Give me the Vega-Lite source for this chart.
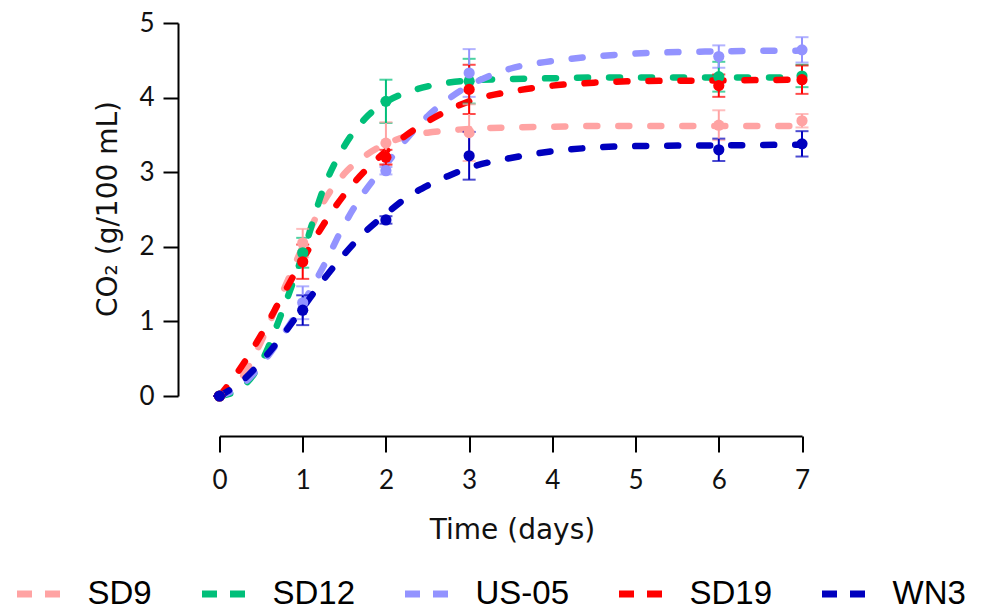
{
  "$schema": "https://vega.github.io/schema/vega-lite/v6.json",
  "width": 582.5,
  "height": 373,
  "autosize": {"type": "none"},
  "padding": {"left": 219.5, "top": 23, "right": 179, "bottom": 215},
  "background": "white",
  "config": {
    "view": {"stroke": null},
    "axis": {
      "grid": false,
      "domainColor": "#000000",
      "domainWidth": 2,
      "tickColor": "#000000",
      "tickWidth": 2,
      "labelColor": "#111111",
      "labelFont": "Lato",
      "labelFontSize": 26,
      "titleColor": "#111111",
      "titleFont": "DejaVu Sans",
      "titleFontSize": 28,
      "titleFontWeight": "normal"
    }
  },
  "datasets": {
    "fit": [
      {"strain": "SD9", "t": 0, "v": 0}, {"strain": "SD9", "t": 0.25, "v": 0.22}, {"strain": "SD9", "t": 0.5, "v": 0.73}, {"strain": "SD9", "t": 0.75, "v": 1.37}, {"strain": "SD9", "t": 1, "v": 2.0}, {"strain": "SD9", "t": 1.25, "v": 2.6}, {"strain": "SD9", "t": 1.5, "v": 2.98}, {"strain": "SD9", "t": 1.75, "v": 3.22}, {"strain": "SD9", "t": 2, "v": 3.38}, {"strain": "SD9", "t": 2.25, "v": 3.48}, {"strain": "SD9", "t": 2.5, "v": 3.53}, {"strain": "SD9", "t": 2.75, "v": 3.56}, {"strain": "SD9", "t": 3, "v": 3.58}, {"strain": "SD9", "t": 3.5, "v": 3.6}, {"strain": "SD9", "t": 4, "v": 3.61}, {"strain": "SD9", "t": 4.5, "v": 3.62}, {"strain": "SD9", "t": 5, "v": 3.62}, {"strain": "SD9", "t": 6, "v": 3.62}, {"strain": "SD9", "t": 7, "v": 3.62},
      {"strain": "SD12", "t": 0, "v": 0}, {"strain": "SD12", "t": 0.25, "v": 0.1}, {"strain": "SD12", "t": 0.5, "v": 0.45}, {"strain": "SD12", "t": 0.75, "v": 1.12}, {"strain": "SD12", "t": 1, "v": 1.9}, {"strain": "SD12", "t": 1.25, "v": 2.78}, {"strain": "SD12", "t": 1.5, "v": 3.35}, {"strain": "SD12", "t": 1.75, "v": 3.72}, {"strain": "SD12", "t": 2, "v": 3.94}, {"strain": "SD12", "t": 2.25, "v": 4.07}, {"strain": "SD12", "t": 2.5, "v": 4.15}, {"strain": "SD12", "t": 2.75, "v": 4.2}, {"strain": "SD12", "t": 3, "v": 4.23}, {"strain": "SD12", "t": 3.5, "v": 4.25}, {"strain": "SD12", "t": 4, "v": 4.26}, {"strain": "SD12", "t": 4.5, "v": 4.27}, {"strain": "SD12", "t": 5, "v": 4.27}, {"strain": "SD12", "t": 6, "v": 4.27}, {"strain": "SD12", "t": 7, "v": 4.27},
      {"strain": "US-05", "t": 0, "v": 0}, {"strain": "US-05", "t": 0.25, "v": 0.13}, {"strain": "US-05", "t": 0.5, "v": 0.42}, {"strain": "US-05", "t": 0.75, "v": 0.8}, {"strain": "US-05", "t": 1, "v": 1.24}, {"strain": "US-05", "t": 1.25, "v": 1.74}, {"strain": "US-05", "t": 1.5, "v": 2.3}, {"strain": "US-05", "t": 1.75, "v": 2.75}, {"strain": "US-05", "t": 2, "v": 3.1}, {"strain": "US-05", "t": 2.25, "v": 3.45}, {"strain": "US-05", "t": 2.5, "v": 3.75}, {"strain": "US-05", "t": 2.75, "v": 3.98}, {"strain": "US-05", "t": 3, "v": 4.16}, {"strain": "US-05", "t": 3.5, "v": 4.39}, {"strain": "US-05", "t": 4, "v": 4.49}, {"strain": "US-05", "t": 4.5, "v": 4.55}, {"strain": "US-05", "t": 5, "v": 4.59}, {"strain": "US-05", "t": 6, "v": 4.62}, {"strain": "US-05", "t": 7, "v": 4.63},
      {"strain": "SD19", "t": 0, "v": 0}, {"strain": "SD19", "t": 0.25, "v": 0.37}, {"strain": "SD19", "t": 0.5, "v": 0.82}, {"strain": "SD19", "t": 0.75, "v": 1.33}, {"strain": "SD19", "t": 1, "v": 1.83}, {"strain": "SD19", "t": 1.25, "v": 2.3}, {"strain": "SD19", "t": 1.5, "v": 2.7}, {"strain": "SD19", "t": 1.75, "v": 3.02}, {"strain": "SD19", "t": 2, "v": 3.28}, {"strain": "SD19", "t": 2.25, "v": 3.5}, {"strain": "SD19", "t": 2.5, "v": 3.68}, {"strain": "SD19", "t": 2.75, "v": 3.83}, {"strain": "SD19", "t": 3, "v": 3.95}, {"strain": "SD19", "t": 3.5, "v": 4.08}, {"strain": "SD19", "t": 4, "v": 4.16}, {"strain": "SD19", "t": 4.5, "v": 4.2}, {"strain": "SD19", "t": 5, "v": 4.22}, {"strain": "SD19", "t": 6, "v": 4.23}, {"strain": "SD19", "t": 7, "v": 4.24},
      {"strain": "WN3", "t": 0, "v": 0}, {"strain": "WN3", "t": 0.25, "v": 0.18}, {"strain": "WN3", "t": 0.5, "v": 0.46}, {"strain": "WN3", "t": 0.75, "v": 0.8}, {"strain": "WN3", "t": 1, "v": 1.18}, {"strain": "WN3", "t": 1.25, "v": 1.56}, {"strain": "WN3", "t": 1.5, "v": 1.9}, {"strain": "WN3", "t": 1.75, "v": 2.2}, {"strain": "WN3", "t": 2, "v": 2.44}, {"strain": "WN3", "t": 2.25, "v": 2.66}, {"strain": "WN3", "t": 2.5, "v": 2.82}, {"strain": "WN3", "t": 2.75, "v": 2.95}, {"strain": "WN3", "t": 3, "v": 3.06}, {"strain": "WN3", "t": 3.5, "v": 3.19}, {"strain": "WN3", "t": 4, "v": 3.28}, {"strain": "WN3", "t": 4.5, "v": 3.33}, {"strain": "WN3", "t": 5, "v": 3.35}, {"strain": "WN3", "t": 6, "v": 3.36}, {"strain": "WN3", "t": 7, "v": 3.37}
    ],
    "obs": [
      {"strain": "SD9", "t": 0, "mean": 0, "sd": 0}, {"strain": "SD9", "t": 1, "mean": 2.05, "sd": 0.19}, {"strain": "SD9", "t": 2, "mean": 3.39, "sd": 0.28}, {"strain": "SD9", "t": 3, "mean": 3.53, "sd": 0.38}, {"strain": "SD9", "t": 6, "mean": 3.63, "sd": 0.2}, {"strain": "SD9", "t": 7, "mean": 3.69, "sd": 0.09},
      {"strain": "SD12", "t": 0, "mean": 0, "sd": 0}, {"strain": "SD12", "t": 1, "mean": 1.92, "sd": 0.2}, {"strain": "SD12", "t": 2, "mean": 3.95, "sd": 0.29}, {"strain": "SD12", "t": 3, "mean": 4.22, "sd": 0.3}, {"strain": "SD12", "t": 6, "mean": 4.28, "sd": 0.2}, {"strain": "SD12", "t": 7, "mean": 4.29, "sd": 0.15},
      {"strain": "US-05", "t": 0, "mean": 0, "sd": 0}, {"strain": "US-05", "t": 1, "mean": 1.25, "sd": 0.22}, {"strain": "US-05", "t": 2, "mean": 3.02, "sd": 0.05}, {"strain": "US-05", "t": 3, "mean": 4.33, "sd": 0.32}, {"strain": "US-05", "t": 6, "mean": 4.55, "sd": 0.15}, {"strain": "US-05", "t": 7, "mean": 4.64, "sd": 0.17},
      {"strain": "SD19", "t": 0, "mean": 0, "sd": 0}, {"strain": "SD19", "t": 1, "mean": 1.8, "sd": 0.23}, {"strain": "SD19", "t": 2, "mean": 3.2, "sd": 0.1}, {"strain": "SD19", "t": 3, "mean": 4.11, "sd": 0.33}, {"strain": "SD19", "t": 6, "mean": 4.16, "sd": 0.15}, {"strain": "SD19", "t": 7, "mean": 4.24, "sd": 0.19},
      {"strain": "WN3", "t": 0, "mean": 0, "sd": 0}, {"strain": "WN3", "t": 1, "mean": 1.15, "sd": 0.2}, {"strain": "WN3", "t": 2, "mean": 2.36, "sd": 0.05}, {"strain": "WN3", "t": 3, "mean": 3.22, "sd": 0.32}, {"strain": "WN3", "t": 6, "mean": 3.3, "sd": 0.15}, {"strain": "WN3", "t": 7, "mean": 3.38, "sd": 0.17}
    ]
  },
  "layer": [
    {
      "data": {"name": "fit"},
      "mark": {"type": "line", "strokeWidth": 6.5, "strokeDash": [11, 21], "strokeCap": "round", "interpolate": "monotone"},
      "encoding": {
        "x": {"field": "t", "type": "quantitative", "title": "Time (days)", "scale": {"domain": [0, 7], "nice": false, "zero": false},
          "axis": {"values": [0, 1, 2, 3, 4, 5, 6, 7], "format": "d", "offset": 40, "tickSize": 16, "labelBaseline": "alphabetic", "labelPadding": 36, "labelFlush": false, "titleX": 292.5, "titleY": 102, "titleBaseline": "alphabetic", "titleAnchor": "middle"}},
        "y": {"field": "v", "type": "quantitative", "title": "CO₂ (g/100 mL)", "scale": {"domain": [0, 5], "nice": false},
          "axis": {"values": [0, 1, 2, 3, 4, 5], "format": "d", "offset": 41.5, "tickSize": 15, "labelPadding": 9, "labelFlush": false, "titleX": -70, "titleY": 185.5, "titleAngle": 270, "titleBaseline": "middle", "titleAlign": "center"}},
        "color": {"field": "strain", "type": "nominal",
          "scale": {"domain": ["SD9", "SD12", "US-05", "SD19", "WN3"], "range": ["#FFA3A3", "#00BF79", "#9393FF", "#FF0000", "#0000BE"]},
          "legend": {"title": null, "orient": "none", "direction": "horizontal", "legendX": -206, "legendY": 546, "padding": 0,
            "symbolType": "stroke", "symbolSize": 1849, "symbolStrokeWidth": 7, "symbolDash": [15, 13],
            "labelFont": "Liberation Sans", "labelFontSize": 33, "labelColor": "#000000", "labelOffset": 24, "columnPadding": 35, "labelLimit": 300}},
        "detail": {"field": "strain"}
      }
    },
    {
      "data": {"name": "obs"},
      "mark": {"type": "errorbar", "ticks": true, "thickness": 2, "size": 13},
      "encoding": {
        "x": {"field": "t", "type": "quantitative", "title": "Time (days)"},
        "y": {"field": "mean", "type": "quantitative", "title": "CO₂ (g/100 mL)"},
        "yError": {"field": "sd"},
        "color": {"field": "strain", "type": "nominal", "legend": null}
      }
    },
    {
      "data": {"name": "obs"},
      "mark": {"type": "point", "filled": true, "opacity": 1, "size": 125, "shape": "circle"},
      "encoding": {
        "x": {"field": "t", "type": "quantitative", "title": "Time (days)"},
        "y": {"field": "mean", "type": "quantitative", "title": "CO₂ (g/100 mL)"},
        "color": {"field": "strain", "type": "nominal", "legend": null}
      }
    }
  ]
}
